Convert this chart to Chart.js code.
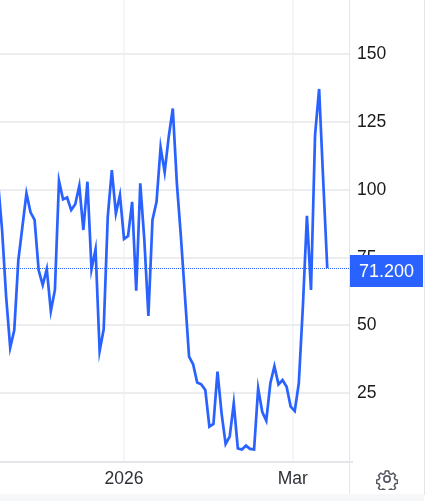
<!DOCTYPE html>
<html>
<head>
<meta charset="utf-8">
<script src="https://cdn.jsdelivr.net/npm/chart.js@4"></script>
<style>
    html, body { margin: 0; padding: 0; background: #fff; overflow: hidden; }
    #wrap { position: relative; width: 433px; height: 501px; }
    #deviceChar { position: absolute; left: 0; top: 0; }
    #band { position: absolute; left: 0; top: 494px; width: 424px; height: 7px; background: #f6f7f9; }
    #gear { position: absolute; left: 376px; top: 468px; }
</style>
</head>
<body>
<div id="wrap">
    <canvas id="deviceChar" width="433" height="501"></canvas>
    <div id="band"></div>
    <svg id="gear" width="22" height="22" viewBox="0 0 24 24" fill="none" stroke="#555862" stroke-width="1.8" stroke-linejoin="round">
        <circle cx="12" cy="12" r="3.4"></circle>
        <path d="M10 2.5h4l.6 3 2.3 1 2.6-1.6 2.8 2.8-1.6 2.6 1 2.3 2.8.6v4l-2.8.6-1 2.3 1.6 2.6-2.8 2.8-2.6-1.6-2.3 1-.6 2.8h-4l-.6-2.8-2.3-1-2.6 1.6-2.8-2.8 1.6-2.6-1-2.3-2.8-.6v-4l2.8-.6 1-2.3-1.6-2.6 2.8-2.8 2.6 1.6 2.3-1z" transform="translate(1.1 1.1) scale(.91)"></path>
    </svg>
</div>
<script>
const seriesValues = [
    103, 85.2, 60.6, 41.8, 48.3, 74.1, 86.4, 98.7, 91.7, 88.9, 70.4, 64.9, 70.8, 55.3, 63.1,
    103.3, 96.5, 97.2, 92.6, 94.7, 101.5, 85.2, 103.0, 70.7, 78.1, 40.6, 48.6, 90.1, 107.3, 91.3,
    98.1, 81.9, 83.0, 95.6, 62.8, 102.4, 81.5, 53.5, 88.9, 95.6, 115.7, 106.5, 119.6, 130.0, 102.4,
    82.7, 60.6, 38.5, 35.7, 29.0, 28.3, 26.2, 12.7, 13.7, 33.0, 17.6, 6.3, 9.0, 21.3, 4.7, 4.3,
    5.7, 4.5, 4.3, 26.8, 18.2, 14.9, 28.7, 35.0, 28.3, 29.9, 27.4, 20.1, 18.5, 28.7, 56.9, 90.4,
    63.1, 120.2, 137.2, 103.6, 71.2
];
const yTicks = [25, 50, 75, 100, 125, 150];
const xTickPositions = [31, 72.5];
const xTickLabels = ['2026', 'Mar'];

const fontFamily = '"Liberation Sans", Arial, sans-serif';
const blue = '#2962ff';
const frame = '#e4e5e8';

// last price line + label, and the pane borders
const lastPrice = {
    id: 'lastPrice',
    afterDraw(chart) {
        const c = chart.ctx;
        const y = Math.round(chart.scales.y.getPixelForValue(seriesValues[seriesValues.length - 1]));
        c.save();
        c.strokeStyle = frame;
        c.lineWidth = 1;
        c.beginPath();
        c.moveTo(349.5, 0); c.lineTo(349.5, 494);
        c.moveTo(0, 494.5); c.lineTo(424, 494.5);
        c.moveTo(424.5, 0); c.lineTo(424.5, 495);
        c.stroke();
        c.lineWidth = 2;
        c.beginPath();
        c.moveTo(349, 462); c.lineTo(353, 462);
        c.stroke();
        c.lineWidth = 1;
        c.strokeStyle = blue;
        c.setLineDash([1, 1]);
        c.beginPath();
        c.moveTo(0, y + 0.5); c.lineTo(350, y + 0.5);
        c.stroke();
        c.setLineDash([]);
        c.fillStyle = blue;
        c.fillRect(350, y - 13, 73, 32);
        c.fillStyle = '#fff';
        c.font = '18px ' + fontFamily;
        c.textAlign = 'left';
        c.textBaseline = 'middle';
        c.fillText(seriesValues[seriesValues.length - 1].toFixed(3), 359, y + 4);
        c.restore();
    }
};

new Chart(document.getElementById('deviceChar').getContext('2d'), {
    type: 'line',
    data: {
        datasets: [{
            data: seriesValues.map((v, i) => ({ x: i, y: v })),
            borderColor: blue,
            borderWidth: 2.7,
            pointRadius: 0,
            tension: 0,
            borderJoinStyle: 'miter',
        }]
    },
    options: {
        responsive: false,
        animation: false,
        layout: { padding: 0 },
        plugins: { legend: { display: false }, tooltip: { enabled: false } },
        scales: {
            x: {
                type: 'linear',
                min: 0.49,
                max: 86.35,
                afterBuildTicks: axis => { axis.ticks = xTickPositions.map(v => ({ value: v })); },
                afterFit: axis => { axis.height = 39; axis.paddingLeft = 0; axis.paddingRight = 0; },
                grid: { color: '#f3f5f9', lineWidth: 2, drawTicks: false },
                border: { color: frame, width: 2 },
                ticks: {
                    autoSkip: false,
                    maxRotation: 0,
                    padding: 7,
                    color: '#2e3138',
                    font: { family: fontFamily, size: 17.5 },
                    callback: v => xTickLabels[xTickPositions.indexOf(v)],
                },
            },
            y: {
                position: 'right',
                min: -0.33,
                max: 170,
                afterBuildTicks: axis => { axis.ticks = yTicks.map(v => ({ value: v })); },
                afterFit: axis => { axis.width = 84; axis.paddingTop = 0; axis.paddingBottom = 0; },
                grid: { color: '#ecedef', lineWidth: 2, drawTicks: false },
                border: { display: false },
                ticks: {
                    padding: 8,
                    color: '#1a1a1a',
                    font: { family: fontFamily, size: 17.5 },
                },
            },
        },
    },
    plugins: [lastPrice],
});
</script>
</body>
</html>
